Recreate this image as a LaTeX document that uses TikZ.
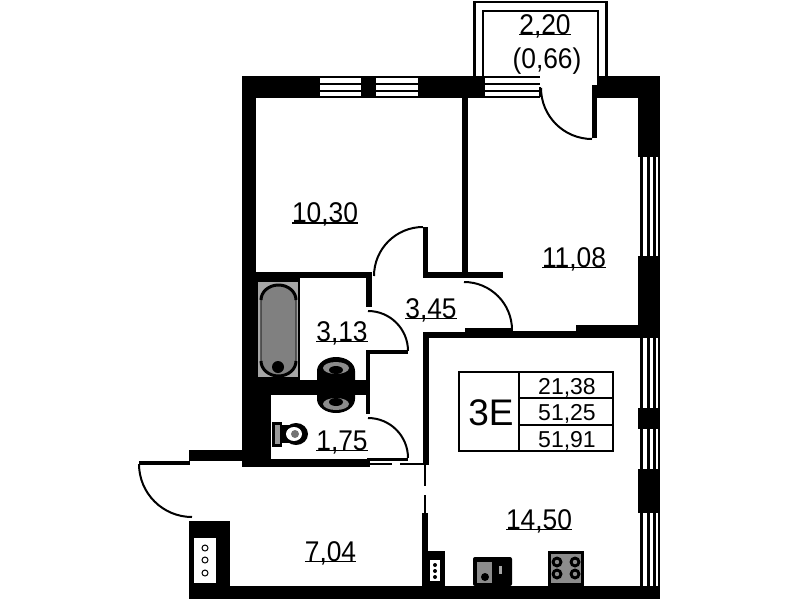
\documentclass[tikz,border=0pt]{standalone}
\usepackage{fontspec}
\setmainfont{Liberation Sans}
\newfontfamily\labfont{Liberation Sans}[FakeStretch=0.925]
\newcommand\ulab[1]{\setbox0\hbox{#1}\rlap{\rule[-1.4pt]{\wd0}{1.6pt}}\box0}
\tikzset{
 wall/.style={fill=black,draw=none},
 thinline/.style={line width=2.6pt,draw=black},
 swing/.style={line width=2pt,draw=black},
 hair/.style={line width=1.6pt,draw=black},
 pane/.style={line width=2.4pt,draw=black},
 lab/.style={anchor=base,inner sep=0pt,font=\labfont\fontsize{28.5}{28.5}\selectfont},
 tabv/.style={anchor=base,inner sep=0pt,font=\fontsize{23}{23}\selectfont},
 tabline/.style={line width=1.5pt,draw=black}
}
\begin{document}
\begin{tikzpicture}[x=1pt,y=-1pt]
\useasboundingbox (0,0) rectangle (799,600);
\fill[white] (0,0) rectangle (799,600);
% balcony
\draw[thinline] (474.5,76) -- (474.5,2) -- (606.5,2) -- (606.5,76);
\draw[thinline] (483,76) -- (483,11) -- (598,11) -- (598,80);
% top wall
\fill[wall] (242,76) rectangle (320,98);
\fill[wall] (361,76) rectangle (376,98);
\fill[wall] (418,76) rectangle (485,98);
\fill[wall] (597,76) rectangle (660,98);
\fill[wall] (592,85) rectangle (597,138);
\foreach \y in {77,84,91,97}{
 \draw[pane] (320,\y) -- (361,\y);
 \draw[pane] (376,\y) -- (418,\y);
 \draw[pane] (485,\y) -- (540,\y);
}
\draw[pane] (540,87) -- (540,97);
\draw[swing] (541,88) arc[start angle=180,end angle=90,radius=51];
% right wall
\fill[wall] (638,76) rectangle (660,157);
\fill[wall] (638,256) rectangle (660,338);
\fill[wall] (638,408) rectangle (660,429);
\fill[wall] (638,469) rectangle (660,513);
\foreach \x in {641.5,648.5,654.5,659}{
 \draw[pane] (\x,157) -- (\x,256);
 \draw[pane] (\x,338) -- (\x,408);
 \draw[pane] (\x,429) -- (\x,469);
 \draw[pane] (\x,513) -- (\x,586);
}
% bottom wall
\fill[wall] (230,586) rectangle (660,599);
% left wall
\fill[wall] (242,98) rectangle (256,282);
\fill[wall] (242,272) rectangle (300,380);
\fill[wall] (242,380) rectangle (370,395);
\fill[wall] (242,395) rectangle (271,467);
\fill[wall] (250,459) rectangle (370,467);
\fill[wall] (189,450) rectangle (250,461);
% partitions
\fill[wall] (462,98) rectangle (468,272);
\fill[wall] (423,272) rectangle (503,278);
\fill[wall] (423,227) rectangle (428,272);
\draw[swing] (423,227) arc[start angle=270,end angle=180,radius=49];
\fill[wall] (256,272) rectangle (372,278);
\fill[wall] (366,278) rectangle (372,307);
\draw[swing] (368,311) arc[start angle=-90,end angle=0,radius=40];
\draw[swing] (464,282) arc[start angle=-90,end angle=0,radius=48];
\fill[wall] (366,350) rectangle (408,354);
\fill[wall] (366,350) rectangle (370,380);
\fill[wall] (366,395) rectangle (370,414);
\draw[swing] (368,418) arc[start angle=-90,end angle=0,radius=40];
\fill[wall] (367,458) rectangle (408,461);
% kitchen walls
\fill[wall] (423,332) rectangle (465,338);
\fill[wall] (465,328) rectangle (513,338);
\fill[wall] (513,331) rectangle (576,338);
\fill[wall] (576,325) rectangle (660,338);
\fill[wall] (423,338) rectangle (429,465);
\draw[hair] (370,464) -- (392,464);
\draw[hair] (400,464) -- (425,464);
\draw[hair] (425,465) -- (425,486);
\draw[hair] (425,495) -- (425,513);
\fill[wall] (422,513) rectangle (428,551);
\fill[wall] (422,551) rectangle (445,586);
\fill[white] (430,560) rectangle (440,581);
\foreach \y in {565,571,577}{\fill[black] (435,\y) circle (2);}
% entrance
\draw[line width=3.4pt] (139,463) -- (190,463);
\draw[swing] (139,464) arc[start angle=180,end angle=90,radius=53];
\fill[wall] (189,521) rectangle (230,599);
\fill[white] (194,538) rectangle (216,583);
\foreach \y in {548,560,573}{\draw[line width=1pt] (205,\y) circle (3);}
% bath
\fill[black!35] (258,282) rectangle (298,377);
\draw[line width=1.4pt,draw=black!80,fill=black!50] (261,300) arc[start angle=180,end angle=360,x radius=17.5,y radius=15] -- (296,361) arc[start angle=0,end angle=180,x radius=17.5,y radius=15] -- cycle;
\draw[line width=3pt] (261,300) arc[start angle=180,end angle=360,x radius=17.5,y radius=15];
\draw[line width=3pt] (296,361) arc[start angle=0,end angle=180,x radius=17.5,y radius=15];
\fill[black] (278,367) circle (6);
% sinks
\fill[black] (317,380) -- (317,371) arc[start angle=180,end angle=360,x radius=19,y radius=14] -- (355,380) -- cycle;
\fill[black!45] (336,368) ellipse (13 and 6);
\fill[black] (336,370) ellipse (7 and 4);
\fill[black] (317,395) -- (317,399) arc[start angle=180,end angle=0,x radius=19,y radius=14] -- (355,395) -- cycle;
\fill[black!45] (336,404) ellipse (13 and 6);
\fill[black] (336,402) ellipse (7 and 4);
% toilet
\fill[black] (272,422) rectangle (282,447);
\fill[black!40] (275,425) rectangle (280,444);
\fill[black] (282,425) rectangle (295,443);
\fill[black] (296,434) ellipse (12 and 11);
\fill[white] (294,434) ellipse (8 and 7);
\fill[black!55] (295,434) ellipse (4 and 4);
% kitchen ware
\fill[black,rounded corners=2pt] (473,557) rectangle (512,586);
\fill[black!45] (477,562) rectangle (492,583);
\fill[black] (485,577) circle (4);
\fill[black!35] (499,566) rectangle (502,574);
\fill[black] (548,551) rectangle (584,586);
\fill[black!45] (551,554) rectangle (581,583);
\foreach \p in {(557,562),(575,562),(557,574),(575,574)}{\fill[black] \p circle (5.5); \fill[black!45] \p circle (2.2);}
% table
\draw[tabline] (459,372) rectangle (613,451);
\draw[tabline] (519,372) -- (519,451);
\draw[line width=2.4pt] (519,398) -- (613,398);
\draw[tabline] (519,425) -- (613,425);
\node[anchor=base,inner sep=0pt,font=\fontsize{37}{37}\selectfont] (type) at (491,425) {3E};
\node[tabv] (ta) at (567,394) {21,38};
\node[tabv] (tb) at (567,420) {51,25};
\node[tabv] (tc) at (567,447) {51,91};
% labels
\node[lab] (la) at (545,34) {\ulab{2,20}};
\node[lab] (lb) at (547,68) {(0,66)};
\node[lab] (lc) at (325,222.5) {\ulab{10,30}};
\node[lab] (ld) at (574,267) {\ulab{11,08}};
\node[lab] (le) at (431,318) {\ulab{3,45}};
\node[lab] (lf) at (342,341) {\ulab{3,13}};
\node[lab] (lg) at (342,450) {\ulab{1,75}};
\node[lab] (lh) at (330.5,561) {\ulab{7,04}};
\node[lab] (li) at (539,529) {\ulab{14,50}};
\end{tikzpicture}
\end{document}
